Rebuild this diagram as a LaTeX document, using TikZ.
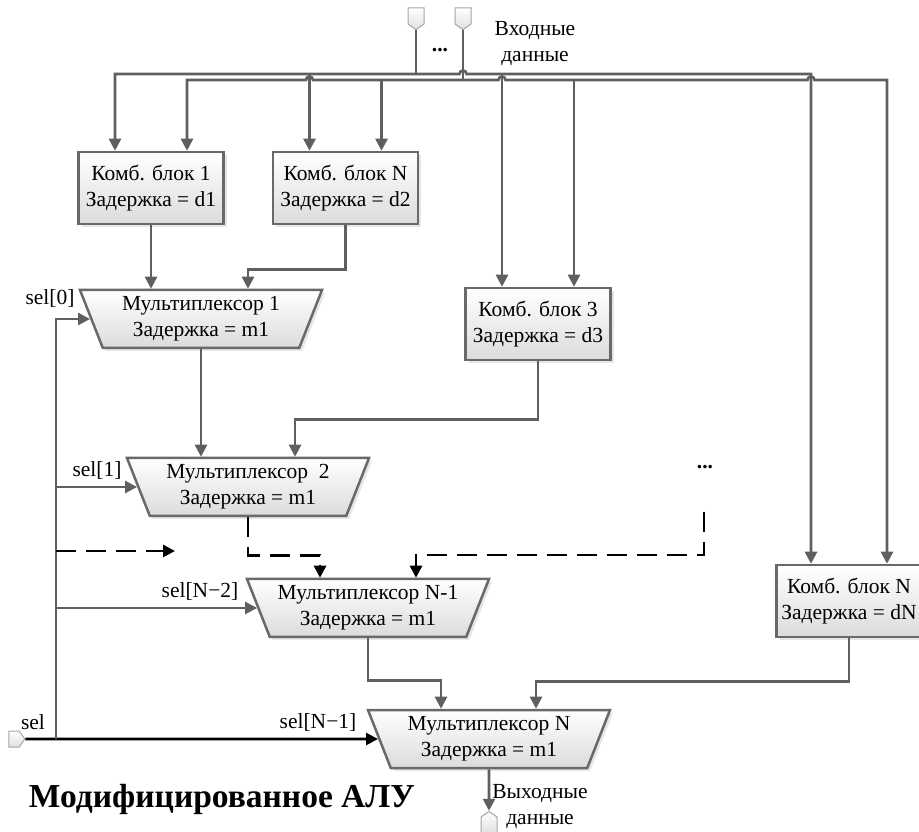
\documentclass[tikz,border=0pt]{standalone}
\usepackage{fontspec}
\setmainfont{Liberation Serif}
\usepackage{tikz}
\usetikzlibrary{arrows.meta, positioning, shapes.geometric, shapes.symbols, shadows, calc}
\definecolor{wiregray}{RGB}{95,95,95}
\definecolor{boxgray}{RGB}{105,105,105}
\definecolor{termgray}{RGB}{165,165,165}

\begin{document}
\begin{tikzpicture}[x=1pt, y=1pt,
  font=\fontsize{21.5}{26}\selectfont,
  blk/.style={draw=boxgray, line width=2.5pt, top color=white, bottom color=black!14,
    minimum width=145pt, minimum height=72pt, align=center, inner sep=2pt,
    drop shadow={shadow xshift=3pt, shadow yshift=-3pt, opacity=0.2}},
  mux/.style={trapezium, shape border rotate=180, trapezium left angle=64, trapezium right angle=64,
    trapezium stretches body, draw=boxgray, line width=2.5pt, top color=white, bottom color=black!14,
    minimum width=242pt, minimum height=58pt, align=center, inner sep=1pt,
    drop shadow={shadow xshift=3pt, shadow yshift=-3pt, opacity=0.2}},
  term/.style={signal, signal from=nowhere, signal pointer angle=110, draw=termgray, line width=1pt,
    top color=white, bottom color=black!12, minimum width=16pt, minimum height=16pt, inner sep=0pt},
  wire/.style={draw=wiregray, line width=2.6pt},
  arr/.style={wire, -{Triangle[length=12pt, width=12pt]}},
  bus/.style={wire, {Triangle[length=12pt, width=12pt]}-{Triangle[length=12pt, width=12pt]}},
  selarr/.style={draw=black, line width=2.6pt, -{Triangle[length=12pt, width=12pt]}},
  dasharr/.style={draw=black, line width=2.8pt, dash pattern=on 20pt off 10pt,
    -{Triangle[length=12pt, width=12pt]}}
]
  \useasboundingbox (0,0) rectangle (919,831);

  % combinational blocks
  \node[blk] (k1) at (151,643) {Комб. блок 1\\Задержка = d1};
  \node[blk, right=47pt of k1] (kn) {Комб. блок N\\Задержка = d2};
  \node[blk] (k3) at (538,507) {Комб. блок 3\\Задержка = d3};
  \node[blk] (kn2) at (849,230) {Комб. блок N\\Задержка = dN};

  % multiplexers
  \node[mux] (m1) at (201,512) {Мультиплексор 1\\Задержка = m1};
  \node[mux] (m2) at (248,344) {Мультиплексор\ \ 2\\Задержка = m1};
  \node[mux] (m3) at (368,223) {Мультиплексор N-1\\Задержка = m1};
  \node[mux] (mn) at (489,92) {Мультиплексор N\\Задержка = m1};

  % off-page terminals
  \node[term, signal to=south] (in1) at (416,815) {};
  \node[term, signal to=south] (in2) at (463,815) {};
  \node[term, signal to=east] (selin) at (14,92) {};
  \node[term, signal to=north] (out) at (489,6) {};

  % labels
  \node (dots1) at (440,781) {\textbf{...}};
  \node[align=center] (inlbl) at (535,787) {Входные\\данные};
  \node (dots2) at (705,364) {\textbf{...}};
  \node[align=center] (outlbl) at (540,24) {Выходные\\данные};
  \node (s0) at (50,533) {sel[0]};
  \node (s1) at (97,361) {sel[1]};
  \node (s2) at (200,240) {sel[N−2]};
  \node (s) at (33,109) {sel};
  \node (s3) at (318,109) {sel[N−1]};
  \node[font=\fontsize{33.5}{40}\selectfont\bfseries] (title) at (222,32) {Модифицированное АЛУ};

  % bus levels and block inputs
  \coordinate (ubus) at (0,757);
  \coordinate (lbus) at (0,751);
  \coordinate (k1a) at ([xshift=-36pt]k1.north);
  \coordinate (k1b) at ([xshift=36pt]k1.north);
  \coordinate (kna) at ([xshift=-36pt]kn.north);
  \coordinate (knb) at ([xshift=36pt]kn.north);
  \coordinate (k3a) at ([xshift=-36pt]k3.north);
  \coordinate (k3b) at ([xshift=36pt]k3.north);
  \coordinate (k4a) at ([xshift=-38pt]kn2.north);
  \coordinate (k4b) at ([xshift=38pt]kn2.north);

  \draw[wire] (in1.south) -- (in1.south |- ubus);
  \draw[wire] (in2.south) -- (in2.south |- lbus);
  \draw[bus] (k1a) -- (k1a |- ubus)
    -- ($(in2.south |- ubus)+(-3.5pt,0)$) arc[start angle=180, end angle=0, radius=3.5pt]
    -- (k4a |- ubus) -- (k4a);
  \draw[arr] (kna |- ubus) -- (kna);
  \draw[arr] (k3a |- ubus) -- (k3a);
  \draw[bus] (k1b) -- (k1b |- lbus)
    -- ($(kna |- lbus)+(-3.5pt,0)$) arc[start angle=180, end angle=0, radius=3.5pt]
    -- ($(k3a |- lbus)+(-3.5pt,0)$) arc[start angle=180, end angle=0, radius=3.5pt]
    -- ($(k4a |- lbus)+(-3.5pt,0)$) arc[start angle=180, end angle=0, radius=3.5pt]
    -- (k4b |- lbus) -- (k4b);
  \draw[arr] (knb |- lbus) -- (knb);
  \draw[arr] (k3b |- lbus) -- (k3b);

  % data path through the multiplexers
  \draw[arr] (k1.south) -- (k1.south |- m1.north);
  \draw[arr] (kn.south) -- ++(0,-44) -| ([xshift=47pt]m1.north);
  \draw[arr] (m1.south) -- (m1.south |- m2.north);
  \draw[arr] (k3.south) -- ++(0,-58) -| ([xshift=47pt]m2.north);
  \coordinate (more) at (704,319);
  \draw[dasharr] (m2.south) -- ++(0,-38) -| ([xshift=-48pt]m3.north);
  \draw[dasharr] (more) -- ++(0,-43) -| ([xshift=48pt]m3.north);
  \draw[arr] (m3.south) -- ++(0,-42) -| ([xshift=-48pt]mn.north);
  \draw[arr] (kn2.south) -- ++(0,-43) -| ([xshift=47pt]mn.north);
  \draw[arr] (mn.south) -- (out.north);

  % select lines
  \coordinate (tap) at (56,92);
  \coordinate (skip) at (56,280);
  \coordinate (skipend) at (175,280);
  \draw[selarr] (selin.east) -- (mn.west);
  \draw[arr] (tap) |- (m1.west);
  \draw[arr] (tap |- m2.west) -- (m2.west);
  \draw[arr] (tap |- m3.west) -- (m3.west);
  \draw[dasharr] (skip) -- (skipend);
\end{tikzpicture}
\end{document}
